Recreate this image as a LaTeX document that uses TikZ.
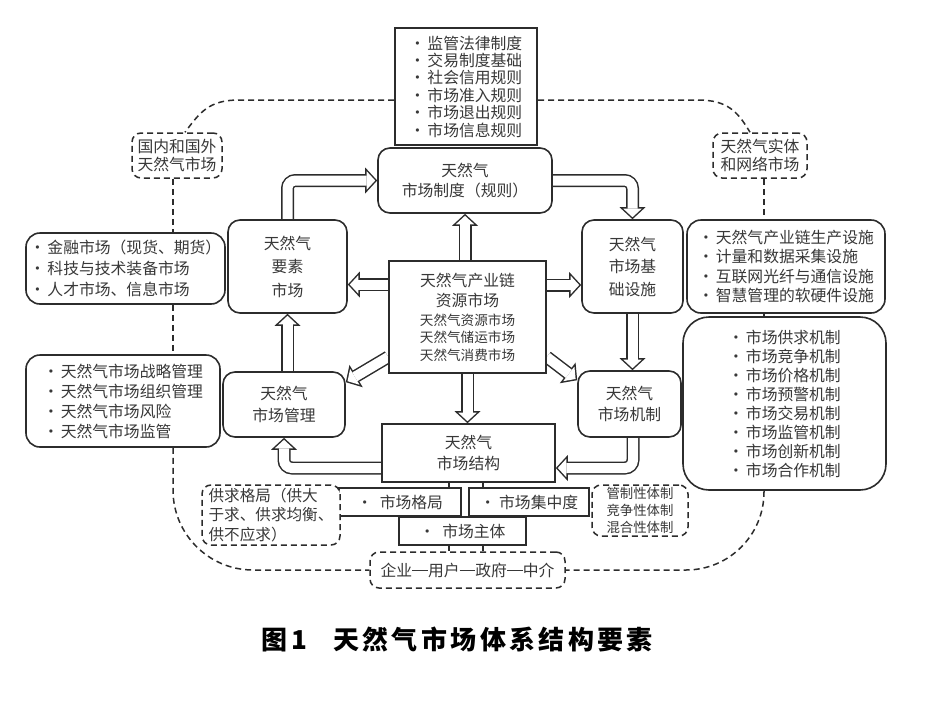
\documentclass[tikz,border=0pt]{standalone}
\usepackage{fontspec}
\setmainfont{Noto Sans CJK SC}
\usetikzlibrary{arrows.meta,backgrounds}

\definecolor{ink}{HTML}{2C2C2C}
\definecolor{txt}{HTML}{383838}

\tikzset{
  box/.style={draw=ink, line width=1.6pt, fill=white, text=txt, align=center,
    inner sep=2pt, font=\fontsize{15.8}{20}\selectfont},
  rbox/.style={box, rounded corners=12pt},
  listbox/.style={box, rounded corners=14pt, align=left},
  dbox/.style={box, dash pattern=on 6pt off 4pt, line width=1.5pt, rounded corners=9pt},
  loopline/.style={draw=ink, line width=1.5pt, dash pattern=on 6pt off 4pt},
  stub/.style={draw=ink, line width=1.5pt},
  fatout/.style={draw=ink, line width=13pt, -{Triangle[length=12pt,width=26pt,line width=0pt]}},
  fatin/.style={draw=white, line width=10pt, shorten >=2pt,
    -{Triangle[length=8.5pt,width=18.4pt,line width=0pt]}},
}
\newcommand\fatarr[1]{\draw[fatout] #1; \draw[fatin] #1;}
\newcommand\bul{·\kern2pt}
\newcommand\dash{\rule[0.33em]{1em}{0.06em}}

\begin{document}
\begin{tikzpicture}[x=1pt,y=-1pt]
  \useasboundingbox (0,0) rectangle (930,702);

  % centre and the six parts of the market
  \node[box, minimum width=157pt, minimum height=112pt] (core) at (467.5,317)
    {天然气产业链\\资源市场\\[-1pt]
     {\fontsize{13.6}{18}\selectfont 天然气资源市场}\\[-2.5pt]
     {\fontsize{13.6}{18}\selectfont 天然气储运市场}\\[-2.5pt]
     {\fontsize{13.6}{18}\selectfont 天然气消费市场}};
  \node[rbox, minimum width=174pt, minimum height=65pt] (rule) at (465,180.5)
    {天然气\\市场制度（规则）};
  \node[rbox, minimum width=119pt, minimum height=93pt,
    font=\fontsize{15.8}{23.5}\selectfont] (factor) at (287.5,266.5) {天然气\\要素\\市场};
  \node[rbox, minimum width=101pt, minimum height=93pt,
    font=\fontsize{15.8}{22.5}\selectfont] (infra) at (632.5,266.5) {天然气\\市场基\\础设施};
  \node[rbox, minimum width=122pt, minimum height=65pt,
    font=\fontsize{15.8}{22}\selectfont] (manage) at (284,404.5) {天然气\\市场管理};
  \node[rbox, minimum width=103pt, minimum height=66pt,
    font=\fontsize{15.8}{21}\selectfont] (mech) at (629.5,404) {天然气\\市场机制};
  \node[box, minimum width=173pt, minimum height=58pt,
    font=\fontsize{15.8}{21}\selectfont] (struct) at (468.5,453) {天然气\\市场结构};

  % parts of the market structure
  \node[box, minimum width=122pt, minimum height=28pt] (pattern) at (400,502) {·\ \ 市场格局};
  \node[box, minimum width=120pt, minimum height=28pt] (conc) at (529,502) {·\ 市场集中度};
  \node[box, minimum width=127pt, minimum height=28pt] (subject) at (462.5,531) {·\ \ 市场主体};

  % lists
  \node[box, line width=2pt, minimum width=142pt, minimum height=117pt, align=left,
    font=\fontsize{15.8}{17.4}\selectfont] (rules) at (466,86.5)
    {\bul 监管法律制度\\\bul 交易制度基础\\\bul 社会信用规则\\\bul 市场准入规则\\%
     \bul 市场退出规则\\\bul 市场信息规则};
  \node[listbox, minimum width=199pt, minimum height=71pt,
    font=\fontsize{15.8}{21}\selectfont] (finance) at (125.5,268.5)
    {\bul 金融市场（现货、期货）\\\bul 科技与技术装备市场\\\bul 人才市场、信息市场};
  \node[listbox, minimum width=194pt, minimum height=92pt] (mgmt) at (123,401)
    {\bul 天然气市场战略管理\\\bul 天然气市场组织管理\\\bul 天然气市场风险\\\bul 天然气市场监管};
  \node[listbox, minimum width=198pt, minimum height=93pt,
    font=\fontsize{15.8}{19.5}\selectfont] (facility) at (786,266.5)
    {\bul 天然气产业链生产设施\\\bul 计量和数据采集设施\\\bul 互联网光纤与通信设施\\%
     \bul 智慧管理的软硬件设施};
  \node[listbox, rounded corners=26pt, minimum width=203pt, minimum height=173pt,
    font=\fontsize{15.8}{19}\selectfont] (mechlist) at (784.5,403.5)
    {\bul 市场供求机制\\\bul 市场竞争机制\\\bul 市场价格机制\\\bul 市场预警机制\\%
     \bul 市场交易机制\\\bul 市场监管机制\\\bul 市场创新机制\\\bul 市场合作机制};

  % dashed notes
  \node[dbox, minimum width=90pt, minimum height=45pt,
    font=\fontsize{15.8}{18}\selectfont] (domestic) at (177,155.5) {国内和国外\\天然气市场};
  \node[dbox, minimum width=94pt, minimum height=45pt,
    font=\fontsize{15.8}{18}\selectfont] (physical) at (760,155.5) {天然气实体\\和网络市场};
  \node[dbox, align=left, minimum width=138pt, minimum height=60pt,
    font=\fontsize{15.6}{19.5}\selectfont] (supply) at (271,515)
    {供求格局（供大\\于求、供求均衡、\\供不应求）};
  \node[dbox, minimum width=96pt, minimum height=51pt,
    font=\fontsize{13.4}{17}\selectfont] (regime) at (640,510.5)
    {管制性体制\\竞争性体制\\混合性体制};
  \node[dbox, minimum width=195pt, minimum height=36pt] (mode) at (467.5,570)
    {企业\dash 用户\dash 政府\dash 中介};

  % caption
  \node[text=black, font=\fontsize{26}{30}\selectfont\bfseries] (caption) at (457,640)
    {图\,1\quad\addfontfeatures{LetterSpace=13}天然气市场体系结构要素};

  \coordinate (fl) at ([yshift=-18pt]factor.east);
  \coordinate (ir) at ([yshift=-18.5pt]infra.west);
  \coordinate (cl) at ([yshift=-40pt]core.west);
  \coordinate (cr) at ([yshift=-40pt]core.east);
  \coordinate (mt) at ([yshift=-11pt]manage.north east);
  \coordinate (mw) at ([yshift=-10pt]mech.north west);
  \coordinate (mb) at ([xshift=3.5pt]mech.south);
  \coordinate (se) at ([yshift=-15pt]struct.east);
  \coordinate (sw) at ([yshift=-15pt]struct.west);
  \coordinate (s1) at ([xshift=-19.5pt]struct.south);
  \coordinate (s2) at ([xshift=14.5pt]struct.south);
  \coordinate (dl) at ([xshift=-4pt]domestic.south);
  \coordinate (pr) at ([xshift=4pt]physical.south);

  \begin{scope}[on background layer]
    % hollow block arrows
    \fatarr{(core.north -| rule.south) -- (rule.south)}
    \fatarr{(core.west |- fl) -- (fl)}
    \fatarr{(core.east |- ir) -- (ir)}
    \fatarr{(cl) -- (mt)}
    \fatarr{(cr) -- (mw)}
    \fatarr{(core.south) -- (core.south |- struct.north)}
    \fatarr{(factor.north) [rounded corners=8pt] |- (rule.west)}
    \fatarr{(rule.east) [rounded corners=8pt] -| (infra.north)}
    \fatarr{(infra.south) -- (infra.south |- mech.north)}
    \fatarr{(mb) [rounded corners=8pt] |- (se)}
    \fatarr{(sw) [rounded corners=8pt] -| (manage.south)}
    \fatarr{(manage.north -| factor.south) -- (factor.south)}

    % outer dashed ring
    \draw[loopline] ([yshift=-13.5pt]rules.west) -- ++(-155,0)
      .. controls +(-30,0) and +(15,-20) .. ([xshift=8pt]domestic.north);
    \draw[loopline] ([yshift=-13.5pt]rules.east) -- ++(160,0)
      .. controls +(30,0) and +(-12,-20) .. ([xshift=-10pt]physical.north);
    \draw[loopline] (dl) -- (dl |- finance.north);
    \draw[loopline] (dl |- finance.south) -- (dl |- mgmt.north);
    \draw[loopline, rounded corners=80pt] (dl |- mgmt.south) |- (mode.west);
    \draw[loopline] (pr) -- (pr |- facility.north);
    \draw[loopline] (pr |- facility.south) -- (pr |- mechlist.north);
    \draw[loopline, rounded corners=78pt] (pr |- mechlist.south) |- (mode.east);

    % short links of the structure boxes
    \draw[stub] (s1) -- (s1 |- pattern.north);
    \draw[stub] (s2) -- (s2 |- conc.north);
    \draw[stub] (s1 |- subject.south) -- (s1 |- mode.north);
    \draw[stub] (s2 |- subject.south) -- (s2 |- mode.north);
  \end{scope}
\end{tikzpicture}
\end{document}
